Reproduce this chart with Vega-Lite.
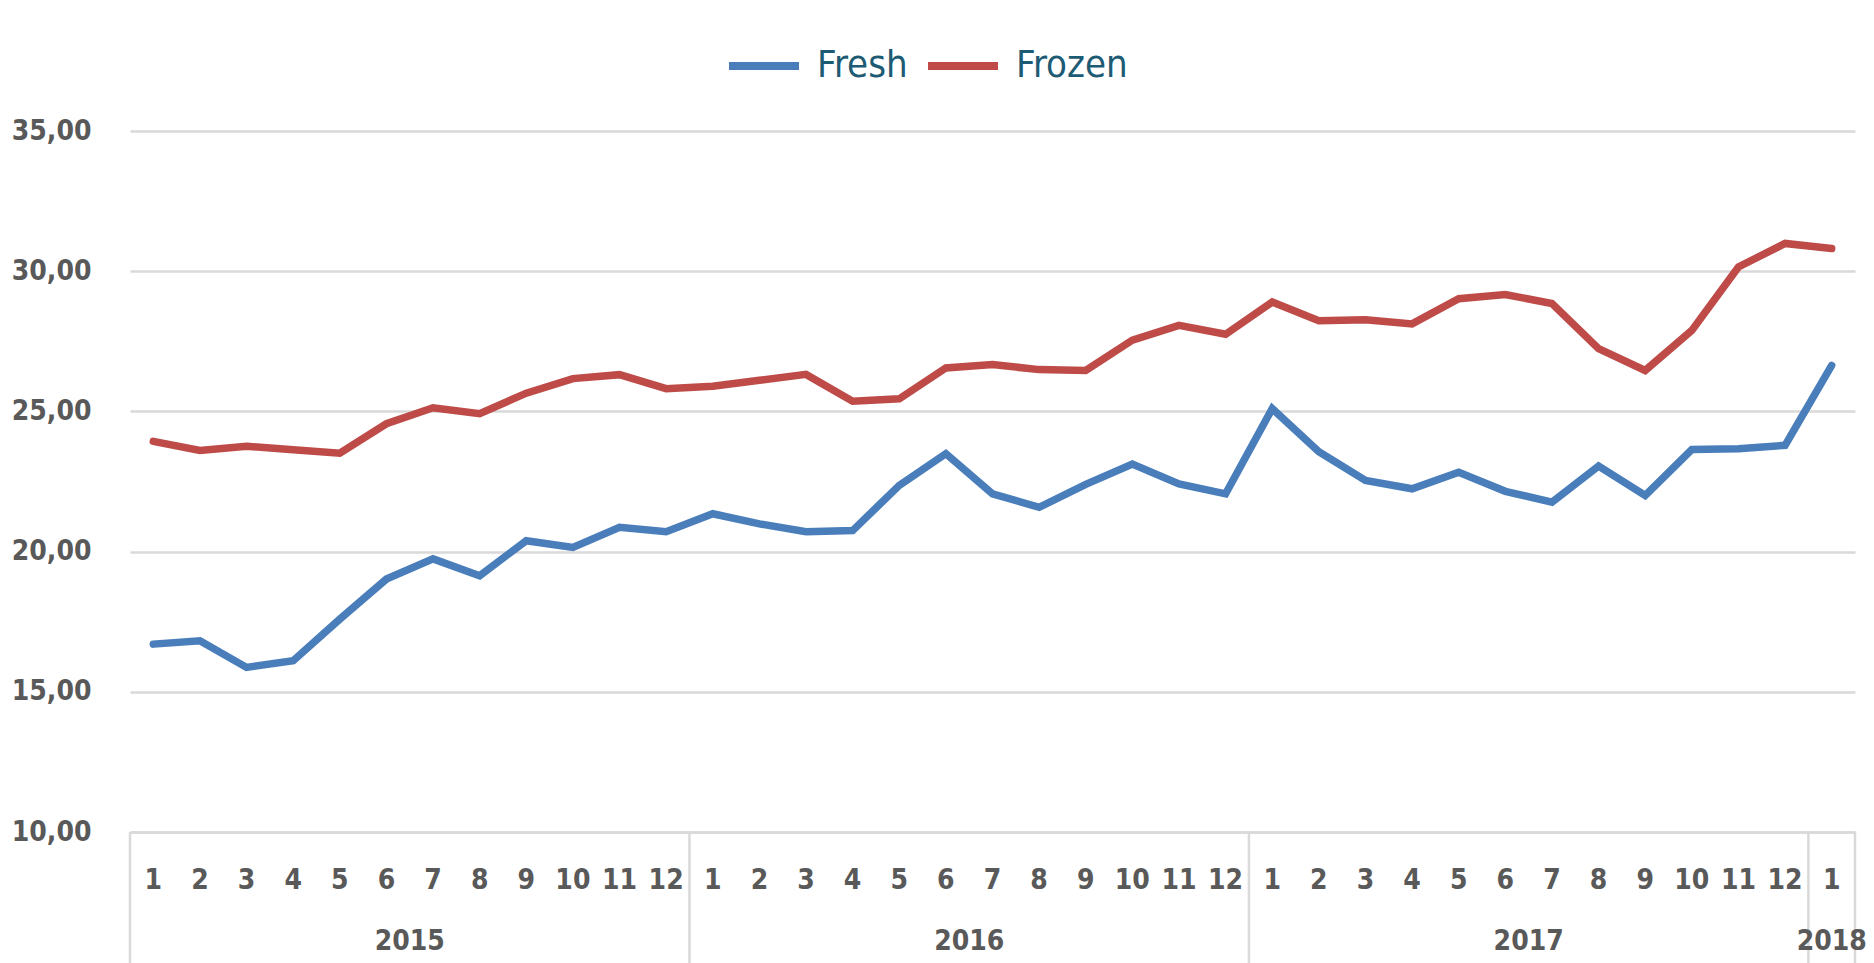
{
  "$schema": "https://vega.github.io/schema/vega-lite/v6.json",
  "width": 1725,
  "height": 701,
  "autosize": {"type": "none"},
  "padding": {"left": 130, "top": 131, "right": 19, "bottom": 131},
  "background": "white",
  "config": {
    "view": {"stroke": null},
    "axis": {"title": null}
  },
  "datasets": {
    "prices": [
      {"period": "2015-1", "series": "Fresh", "value": 16.70},
      {"period": "2015-2", "series": "Fresh", "value": 16.82},
      {"period": "2015-3", "series": "Fresh", "value": 15.87},
      {"period": "2015-4", "series": "Fresh", "value": 16.11},
      {"period": "2015-5", "series": "Fresh", "value": 17.59},
      {"period": "2015-6", "series": "Fresh", "value": 19.02},
      {"period": "2015-7", "series": "Fresh", "value": 19.74},
      {"period": "2015-8", "series": "Fresh", "value": 19.14},
      {"period": "2015-9", "series": "Fresh", "value": 20.39},
      {"period": "2015-10", "series": "Fresh", "value": 20.15},
      {"period": "2015-11", "series": "Fresh", "value": 20.87},
      {"period": "2015-12", "series": "Fresh", "value": 20.71},
      {"period": "2016-1", "series": "Fresh", "value": 21.35},
      {"period": "2016-2", "series": "Fresh", "value": 20.99},
      {"period": "2016-3", "series": "Fresh", "value": 20.71},
      {"period": "2016-4", "series": "Fresh", "value": 20.75},
      {"period": "2016-5", "series": "Fresh", "value": 22.36},
      {"period": "2016-6", "series": "Fresh", "value": 23.49},
      {"period": "2016-7", "series": "Fresh", "value": 22.06},
      {"period": "2016-8", "series": "Fresh", "value": 21.58},
      {"period": "2016-9", "series": "Fresh", "value": 22.40},
      {"period": "2016-10", "series": "Fresh", "value": 23.12},
      {"period": "2016-11", "series": "Fresh", "value": 22.41},
      {"period": "2016-12", "series": "Fresh", "value": 22.06},
      {"period": "2017-1", "series": "Fresh", "value": 25.10},
      {"period": "2017-2", "series": "Fresh", "value": 23.56},
      {"period": "2017-3", "series": "Fresh", "value": 22.54},
      {"period": "2017-4", "series": "Fresh", "value": 22.24},
      {"period": "2017-5", "series": "Fresh", "value": 22.83},
      {"period": "2017-6", "series": "Fresh", "value": 22.15},
      {"period": "2017-7", "series": "Fresh", "value": 21.76},
      {"period": "2017-8", "series": "Fresh", "value": 23.05},
      {"period": "2017-9", "series": "Fresh", "value": 22.00},
      {"period": "2017-10", "series": "Fresh", "value": 23.64},
      {"period": "2017-11", "series": "Fresh", "value": 23.67},
      {"period": "2017-12", "series": "Fresh", "value": 23.79},
      {"period": "2018-1", "series": "Fresh", "value": 26.64},
      {"period": "2015-1", "series": "Frozen", "value": 23.93},
      {"period": "2015-2", "series": "Frozen", "value": 23.61},
      {"period": "2015-3", "series": "Frozen", "value": 23.76},
      {"period": "2015-4", "series": "Frozen", "value": 23.63},
      {"period": "2015-5", "series": "Frozen", "value": 23.51},
      {"period": "2015-6", "series": "Frozen", "value": 24.56},
      {"period": "2015-7", "series": "Frozen", "value": 25.13},
      {"period": "2015-8", "series": "Frozen", "value": 24.92},
      {"period": "2015-9", "series": "Frozen", "value": 25.65},
      {"period": "2015-10", "series": "Frozen", "value": 26.17},
      {"period": "2015-11", "series": "Frozen", "value": 26.31},
      {"period": "2015-12", "series": "Frozen", "value": 25.81},
      {"period": "2016-1", "series": "Frozen", "value": 25.90},
      {"period": "2016-2", "series": "Frozen", "value": 26.11},
      {"period": "2016-3", "series": "Frozen", "value": 26.32},
      {"period": "2016-4", "series": "Frozen", "value": 25.36},
      {"period": "2016-5", "series": "Frozen", "value": 25.45},
      {"period": "2016-6", "series": "Frozen", "value": 26.55},
      {"period": "2016-7", "series": "Frozen", "value": 26.67},
      {"period": "2016-8", "series": "Frozen", "value": 26.49},
      {"period": "2016-9", "series": "Frozen", "value": 26.46},
      {"period": "2016-10", "series": "Frozen", "value": 27.54},
      {"period": "2016-11", "series": "Frozen", "value": 28.07},
      {"period": "2016-12", "series": "Frozen", "value": 27.75},
      {"period": "2017-1", "series": "Frozen", "value": 28.90},
      {"period": "2017-2", "series": "Frozen", "value": 28.23},
      {"period": "2017-3", "series": "Frozen", "value": 28.27},
      {"period": "2017-4", "series": "Frozen", "value": 28.12},
      {"period": "2017-5", "series": "Frozen", "value": 29.02},
      {"period": "2017-6", "series": "Frozen", "value": 29.17},
      {"period": "2017-7", "series": "Frozen", "value": 28.85},
      {"period": "2017-8", "series": "Frozen", "value": 27.24},
      {"period": "2017-9", "series": "Frozen", "value": 26.46},
      {"period": "2017-10", "series": "Frozen", "value": 27.89},
      {"period": "2017-11", "series": "Frozen", "value": 30.15},
      {"period": "2017-12", "series": "Frozen", "value": 30.99},
      {"period": "2018-1", "series": "Frozen", "value": 30.81}
    ],
    "yearStarts": [
      {"period": "2015-1"}, {"period": "2016-1"}, {"period": "2017-1"}, {"period": "2018-1"}
    ],
    "yearEnd": [
      {"period": "2018-1"}
    ],
    "yearMid": [
      {"period": "2015-7", "year": "2015"},
      {"period": "2016-7", "year": "2016"},
      {"period": "2017-7", "year": "2017"}
    ],
    "yearSingle": [
      {"period": "2018-1", "year": "2018"}
    ]
  },
  "layer": [
    {
      "data": {"name": "prices"},
      "mark": {"type": "line", "strokeWidth": 7.5, "strokeCap": "round"},
      "encoding": {
        "x": {
          "field": "period", "type": "nominal",
          "scale": {"type": "band", "paddingInner": 0, "paddingOuter": 0,
            "domain": ["2015-1","2015-2","2015-3","2015-4","2015-5","2015-6","2015-7","2015-8","2015-9","2015-10","2015-11","2015-12","2016-1","2016-2","2016-3","2016-4","2016-5","2016-6","2016-7","2016-8","2016-9","2016-10","2016-11","2016-12","2017-1","2017-2","2017-3","2017-4","2017-5","2017-6","2017-7","2017-8","2017-9","2017-10","2017-11","2017-12","2018-1"]},
          "axis": {
            "labelExpr": "split(datum.value, '-')[1]",
            "labelAngle": 0, "ticks": false, "grid": false,
            "domain": true, "domainColor": "#d9d9d9", "domainWidth": 2.5,
            "labelFont": "DejaVu Sans Condensed", "labelFontWeight": "bold",
            "labelFontSize": 28, "labelColor": "#595959", "labelPadding": 34,
            "labelOverlap": false, "labelBound": false, "title": null
          }
        },
        "y": {
          "field": "value", "type": "quantitative",
          "scale": {"domain": [10, 35], "nice": false, "zero": false},
          "axis": {
            "values": [10, 15, 20, 25, 30, 35],
            "labelExpr": "replace(format(datum.value, '.2f'), '.', ',')",
            "grid": true, "gridColor": "#d9d9d9", "gridWidth": 2.5,
            "domain": false, "ticks": false,
            "labelFont": "DejaVu Sans Condensed", "labelFontWeight": "bold",
            "labelFontSize": 28, "labelColor": "#595959", "labelPadding": 39,
            "title": null
          }
        },
        "color": {
          "field": "series", "type": "nominal",
          "scale": {"domain": ["Fresh", "Frozen"], "range": ["#4a7ebb", "#be4b48"]},
          "legend": {
            "orient": "none", "legendX": 595, "legendY": -104,
            "direction": "horizontal", "title": null,
            "symbolType": "stroke", "symbolStrokeWidth": 8, "symbolSize": 4900,
            "labelFont": "DejaVu Sans Condensed", "labelFontSize": 38,
            "labelColor": "#1d5a73", "labelOffset": 14, "columnPadding": 4,
            "padding": 0
          }
        }
      }
    },
    {
      "data": {"name": "yearStarts"},
      "mark": {"type": "rule", "color": "#d9d9d9", "strokeWidth": 2.5},
      "encoding": {
        "x": {"field": "period", "type": "nominal", "bandPosition": 0,
          "scale": {"type": "band", "paddingInner": 0, "paddingOuter": 0,
            "domain": ["2015-1","2015-2","2015-3","2015-4","2015-5","2015-6","2015-7","2015-8","2015-9","2015-10","2015-11","2015-12","2016-1","2016-2","2016-3","2016-4","2016-5","2016-6","2016-7","2016-8","2016-9","2016-10","2016-11","2016-12","2017-1","2017-2","2017-3","2017-4","2017-5","2017-6","2017-7","2017-8","2017-9","2017-10","2017-11","2017-12","2018-1"]}},
        "y": {"datum": 10, "type": "quantitative", "scale": {"domain": [10, 35], "nice": false, "zero": false}},
        "y2": {"datum": 5.3}
      }
    },
    {
      "data": {"name": "yearEnd"},
      "mark": {"type": "rule", "color": "#d9d9d9", "strokeWidth": 2.5},
      "encoding": {
        "x": {"field": "period", "type": "nominal", "bandPosition": 1,
          "scale": {"type": "band", "paddingInner": 0, "paddingOuter": 0,
            "domain": ["2015-1","2015-2","2015-3","2015-4","2015-5","2015-6","2015-7","2015-8","2015-9","2015-10","2015-11","2015-12","2016-1","2016-2","2016-3","2016-4","2016-5","2016-6","2016-7","2016-8","2016-9","2016-10","2016-11","2016-12","2017-1","2017-2","2017-3","2017-4","2017-5","2017-6","2017-7","2017-8","2017-9","2017-10","2017-11","2017-12","2018-1"]}},
        "y": {"datum": 10, "type": "quantitative", "scale": {"domain": [10, 35], "nice": false, "zero": false}},
        "y2": {"datum": 5.3}
      }
    },
    {
      "data": {"name": "yearMid"},
      "mark": {"type": "text", "font": "DejaVu Sans Condensed", "fontWeight": "bold", "fontSize": 28, "color": "#595959", "baseline": "middle", "align": "center"},
      "encoding": {
        "x": {"field": "period", "type": "nominal", "bandPosition": 0,
          "scale": {"type": "band", "paddingInner": 0, "paddingOuter": 0,
            "domain": ["2015-1","2015-2","2015-3","2015-4","2015-5","2015-6","2015-7","2015-8","2015-9","2015-10","2015-11","2015-12","2016-1","2016-2","2016-3","2016-4","2016-5","2016-6","2016-7","2016-8","2016-9","2016-10","2016-11","2016-12","2017-1","2017-2","2017-3","2017-4","2017-5","2017-6","2017-7","2017-8","2017-9","2017-10","2017-11","2017-12","2018-1"]}},
        "y": {"datum": 6.08, "type": "quantitative", "scale": {"domain": [10, 35], "nice": false, "zero": false}},
        "text": {"field": "year"}
      }
    },
    {
      "data": {"name": "yearSingle"},
      "mark": {"type": "text", "font": "DejaVu Sans Condensed", "fontWeight": "bold", "fontSize": 28, "color": "#595959", "baseline": "middle", "align": "center"},
      "encoding": {
        "x": {"field": "period", "type": "nominal", "bandPosition": 0.5,
          "scale": {"type": "band", "paddingInner": 0, "paddingOuter": 0,
            "domain": ["2015-1","2015-2","2015-3","2015-4","2015-5","2015-6","2015-7","2015-8","2015-9","2015-10","2015-11","2015-12","2016-1","2016-2","2016-3","2016-4","2016-5","2016-6","2016-7","2016-8","2016-9","2016-10","2016-11","2016-12","2017-1","2017-2","2017-3","2017-4","2017-5","2017-6","2017-7","2017-8","2017-9","2017-10","2017-11","2017-12","2018-1"]}},
        "y": {"datum": 6.08, "type": "quantitative", "scale": {"domain": [10, 35], "nice": false, "zero": false}},
        "text": {"field": "year"}
      }
    }
  ]
}
